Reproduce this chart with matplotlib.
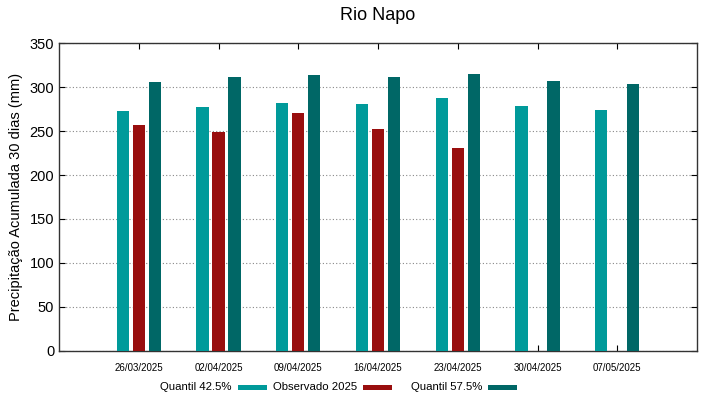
import numpy as np
import matplotlib
matplotlib.use('Agg')
import matplotlib.pyplot as plt
from matplotlib.patches import Rectangle

plt.rcParams['font.family'] = ['Liberation Sans', 'DejaVu Sans']

# dados
datas = ['26/03/2025', '02/04/2025', '09/04/2025', '16/04/2025',
         '23/04/2025', '30/04/2025', '07/05/2025']
q425 = [273, 278, 282, 281, 287.5, 279, 274.5]
obs2025 = [257.5, 249.5, 270.5, 252.5, 230.5, np.nan, np.nan]
q575 = [305.5, 311.5, 313.5, 311.5, 314.5, 307, 303.5]
series = ['Quantil 42.5%', 'Observado 2025', 'Quantil 57.5%']

cores = ['#009a9a', '#990e0e', '#006766']

W, H = 719, 399
fig = plt.figure(figsize=(W/100, H/100), dpi=100)
ax = fig.add_axes([59/W, 1-350.7/H, (697-59)/W, (350.7-43.3)/H])

x = np.arange(len(datas))
w = 0.155
for off, vals, c in zip([-0.2, 0, 0.2], [q425, obs2025, q575], cores):
    ax.bar(x + off, vals, w, color=c, zorder=3)

ax.set_xlim(-1, 7)
ax.set_ylim(0, 350)
ax.set_yticks(np.arange(0, 351, 50))
ax.set_xticks(x)
ax.set_xticklabels(datas, fontsize=7)
ax.tick_params(axis='x', direction='in', top=True, bottom=True, length=4, pad=9)
ax.tick_params(axis='y', direction='in', right=True, length=4, labelsize=10.5)
ax.grid(axis='y', linestyle=(0, (1, 2)), color='#888888', linewidth=0.8, zorder=0)
for s in ax.spines.values():
    s.set_color('#333333')
    s.set_linewidth(1)

ax.set_ylabel('Precipitação Acumulada 30 dias (mm)', fontsize=10.5)
ax.yaxis.set_label_coords(-0.056, 0.5)
fig.text(378/W, 1-16/H, 'Rio Napo', ha='center', va='center', fontsize=13)

# legenda no estilo gnuplot: texto alinhado a direita, amostra depois
leg_y = 387
for i, (nome, c) in enumerate(zip(series, cores)):
    x0 = 238 + 125 * i
    fig.text((x0 - 6)/W, 1-leg_y/H, nome, ha='right', va='center', fontsize=8.2)
    fig.add_artist(Rectangle((x0/W, 1-(leg_y+2.5)/H), 29/W, 5/H,
                             transform=fig.transFigure, facecolor=c, edgecolor='none'))

fig.savefig('out.png', dpi=100)
